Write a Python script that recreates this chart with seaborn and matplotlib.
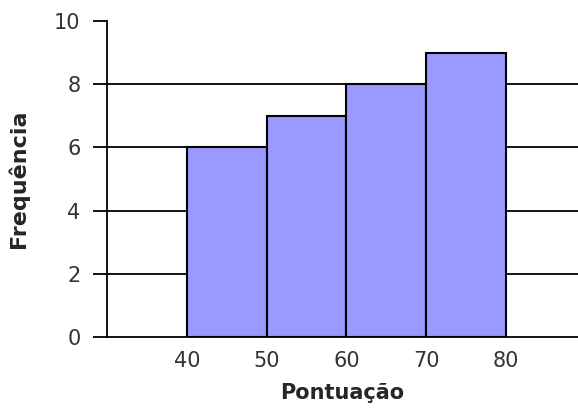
import numpy as np
import seaborn as sns
import matplotlib.pyplot as plt

# Binned scores (class edges) and their frequencies
bin_edges = [40, 50, 60, 70, 80]
frequencies = [6, 7, 8, 9]
x_ticks = [40, 50, 60, 70, 80]
y_ticks = [0, 2, 4, 6, 8, 10]

bin_mids = [(a + b) / 2 for a, b in zip(bin_edges[:-1], bin_edges[1:])]

sns.set_style("white")
plt.rcParams['font.family'] = ['DejaVu Sans']

fig = plt.figure(figsize=(5.78, 4.19), dpi=100)
ax = fig.add_axes([0.185, 0.196, 0.815, 0.754])

# horizontal grid lines (Excel style, black), none at the top value
for y in y_ticks[1:-1]:
    ax.axhline(y, color="black", lw=1.3, zorder=0)

sns.histplot(x=bin_mids, weights=frequencies, bins=bin_edges,
             color="#9999FF", alpha=1, edgecolor="black", linewidth=1.5,
             ax=ax, zorder=2)

ax.set_xlim(30, 89)
ax.set_ylim(0, 10)
ax.set_xticks(x_ticks)
ax.set_yticks(y_ticks)

for side in ["top", "right"]:
    ax.spines[side].set_visible(False)
for side in ["left", "bottom"]:
    ax.spines[side].set_color("black")
    ax.spines[side].set_linewidth(1.3)

ax.tick_params(axis="y", length=10, width=1.3, color="black", direction="out",
               left=True, labelsize=15, pad=9, labelcolor="#333333")
ax.tick_params(axis="x", length=0, labelsize=15, pad=10, labelcolor="#333333")

ax.set_xlabel("Pontuação", fontsize=15, fontweight="bold", labelpad=9)
ax.set_ylabel("Frequência", fontsize=16, fontweight="bold", labelpad=18)

fig.savefig("out.png", dpi=100)
